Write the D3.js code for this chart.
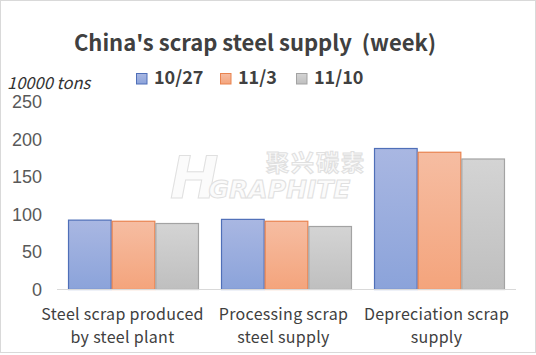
<!DOCTYPE html>
<html>
<head>
<meta charset="utf-8">
<script src="https://cdn.jsdelivr.net/npm/d3@7"></script>
<style>
html,body{margin:0;padding:0;background:#fff;}
svg{display:block;}
</style>
</head>
<body>
<svg id="chart" width="536" height="355"></svg>
<script>
const categories = [
  ["Steel scrap produced", "by steel plant"],
  ["Processing scrap", "steel supply"],
  ["Depreciation scrap", "supply"]
];
const seriesNames = ["10/27", "11/3", "11/10"];
const values_1027 = [92.5, 93.5, 188];
const values_113  = [91, 91, 183];
const values_1110 = [88, 84, 174];
const yTicks = [0, 50, 100, 150, 200, 250];

const seriesValues = [values_1027, values_113, values_1110];
const colors = [
  {top:"#a9b7e2", bottom:"#8ba3da", stroke:"#4f6fb8"},
  {top:"#f6bda2", bottom:"#f4a47c", stroke:"#e9834f"},
  {top:"#d4d4d4", bottom:"#bfbfbf", stroke:"#a3a3a3"}
];
const FONT = "'Noto Sans CJK SC', 'Noto Sans', sans-serif";

const svg = d3.select("#chart");

// frame
svg.append("rect").attr("x",0.5).attr("y",0.5).attr("width",535).attr("height",352)
  .attr("fill","#fff").attr("stroke","#d9d9d9");

const defs = svg.append("defs");
colors.forEach((c,i)=>{
  const g = defs.append("linearGradient").attr("id","grad"+i)
    .attr("x1",0).attr("y1",0).attr("x2",0).attr("y2",1);
  g.append("stop").attr("offset","0%").attr("stop-color",c.top);
  g.append("stop").attr("offset","100%").attr("stop-color",c.bottom);
});

const y = d3.scaleLinear().domain([0,250]).range([289.5,102]);
const x0 = d3.scaleBand().domain(d3.range(categories.length)).range([57,516])
  .paddingInner(0.144).paddingOuter(0.072);
const x1 = d3.scaleBand().domain(d3.range(seriesNames.length)).range([0,x0.bandwidth()]);

// watermark (faint)
const wm = svg.append("g").attr("fill","#fbfbfb").attr("stroke","#e0e0e0").attr("stroke-width",1);
const wmt = wm.append("text").attr("x",170).attr("y",198).attr("font-family","DejaVu Sans")
  .attr("font-weight","bold").attr("font-style","italic");
wmt.append("tspan").attr("font-size",58).text("H");
wmt.append("tspan").attr("font-size",25).attr("dx",-10).text("GRAPHITE");
wm.append("text").attr("x",266).attr("y",171).attr("font-family","Noto Sans CJK SC").attr("font-weight","bold")
  .attr("font-size",23).attr("textLength",98).text("聚兴碳素");

// bars
const groups = svg.append("g").selectAll("g").data(categories).join("g")
  .attr("transform",(d,i)=>`translate(${x0(i)},0)`);
groups.selectAll("rect").data((d,i)=>seriesValues.map((s,j)=>({j, v:s[i]}))).join("rect")
  .attr("x",d=>x1(d.j)+0.5)
  .attr("y",d=>y(d.v))
  .attr("width",x1.bandwidth()-1)
  .attr("height",d=>y(0)-y(d.v))
  .attr("fill",d=>`url(#grad${d.j})`)
  .attr("stroke",d=>colors[d.j].stroke)
  .attr("stroke-width",1.2);

// axis line
svg.append("line").attr("x1",57).attr("x2",516).attr("y1",289.5).attr("y2",289.5)
  .attr("stroke","#d9d9d9").attr("stroke-width",1);

// y tick labels
svg.append("g").selectAll("text").data(yTicks).join("text")
  .attr("x",42).attr("y",d=>y(d)).attr("dy","0.36em")
  .attr("text-anchor","end")
  .attr("font-family","Liberation Sans, Arial, sans-serif")
  .attr("font-size",18).attr("fill","#595959")
  .text(d=>d);

// category labels
const cl = svg.append("g").selectAll("text").data(categories).join("text")
  .attr("text-anchor","middle")
  .attr("font-family",FONT)
  .attr("font-size",16).attr("letter-spacing",0.3).attr("fill","#404040");
cl.each(function(d,i){
  const t = d3.select(this);
  const cx = x0(i)+x0.bandwidth()/2 - (i===0?11:3);
  d.forEach((line,k)=>{
    t.append("tspan").attr("x",cx).attr("y",319.5+k*23.4).text(line);
  });
});

// title
svg.append("text").attr("x",255).attr("y",51).attr("text-anchor","middle")
  .attr("xml:space","preserve").style("white-space","pre")
  .attr("font-family",FONT).attr("font-weight","bold")
  .attr("font-size",22).attr("fill","#404040")
  .text("China's scrap steel supply  (week)");

// unit
svg.append("text").attr("x",7).attr("y",89)
  .attr("font-family",FONT).attr("font-style","italic")
  .attr("font-size",16.5).attr("fill","#333")
  .text("10000 tons");

// legend
const legX = [136, 220, 296];
const leg = svg.append("g").selectAll("g").data(seriesNames).join("g")
  .attr("transform",(d,i)=>`translate(${legX[i]},73)`);
leg.append("rect").attr("x",0.5).attr("y",0.5).attr("width",10.5).attr("height",10.5)
  .attr("fill",(d,i)=>`url(#grad${i})`).attr("stroke",(d,i)=>colors[i].stroke);
leg.append("text").attr("x",18).attr("y",11)
  .attr("font-family",FONT).attr("font-weight","bold")
  .attr("font-size",18).attr("fill","#404040")
  .text(d=>d);
</script>
</body>
</html>
